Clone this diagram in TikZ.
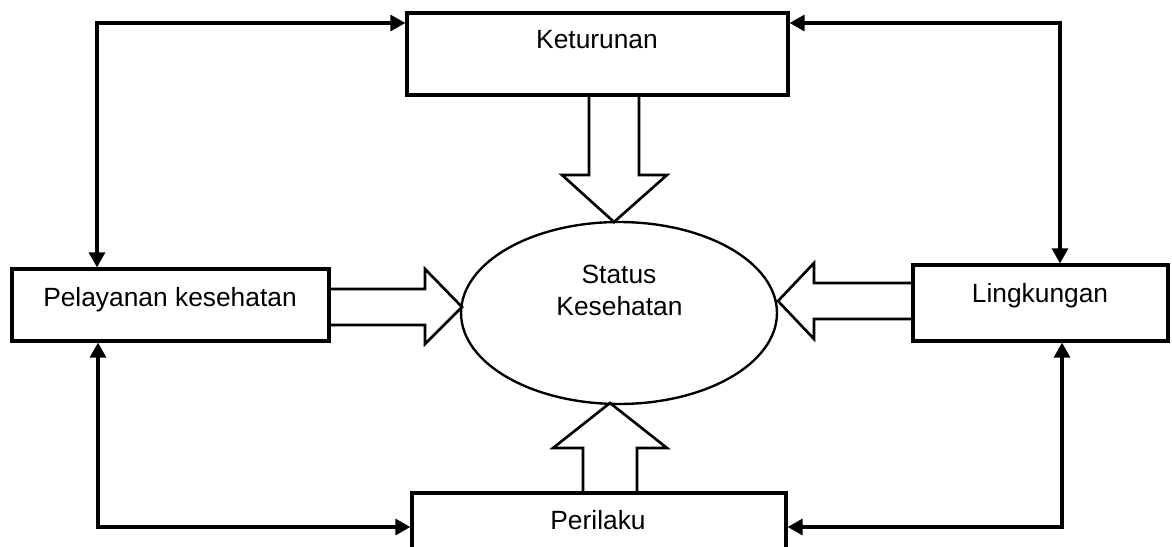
\documentclass[tikz,border=0pt]{standalone}
\usepackage{fontspec}
\setmainfont{Liberation Sans}
\usetikzlibrary{arrows.meta,shapes.geometric,calc}
\begin{document}
\begin{tikzpicture}[x=0.02cm,y=-0.02cm,
  boxnode/.style={draw,line width=1.85pt,rectangle,inner sep=0pt},
  lbl/.style={anchor=base,inner sep=0pt,font=\fontsize{15}{18}\selectfont},
  conn/.style={line width=1.85pt,{Triangle[length=8.5pt,width=9pt]}-{Triangle[length=8.5pt,width=9pt]}},
  blockarrow/.style={line width=1.5pt,line join=miter}]
\useasboundingbox (0,0) rectangle (1172,547);
\clip (0,0) rectangle (1172,547);
% boxes
\node[boxnode,minimum width=7.62cm,minimum height=1.64cm] (ket) at (597.5,54) {};
\node[boxnode,minimum width=6.34cm,minimum height=1.44cm] (pel) at (170.5,305) {};
\node[boxnode,minimum width=5.10cm,minimum height=1.52cm] (lin) at (1040.5,303) {};
\node[boxnode,minimum width=7.48cm,minimum height=1.34cm] (per) at (599,526.5) {};
\node[draw,ellipse,line width=1.35pt,minimum width=6.32cm,minimum height=3.64cm,inner sep=0pt] (sk) at (619,313) {};
% labels
\node[lbl] (tket) at (597,49) {Keturunan};
\node[lbl] (tpel) at (170,306) {Pelayanan kesehatan};
\node[lbl] (tlin) at (1040,302) {Lingkungan};
\node[lbl] (tper) at (598,529) {Perilaku};
\node[lbl] (tsk1) at (619,283) {Status};
\node[lbl] (tsk2) at (619.5,315) {Kesehatan};
% block arrows
\draw[blockarrow] (589,95) -- (589,175) -- (562,175) -- (614,222) -- (667,175) -- (639,175) -- (639,95);
\draw[blockarrow] (329,289) -- (425,289) -- (425,269) -- (462,307) -- (425,344) -- (425,325) -- (329,325);
\draw[blockarrow] (913,283) -- (814,283) -- (814,263) -- (778,301) -- (814,339) -- (814,319) -- (913,319);
\draw[blockarrow] (583,493) -- (583,448) -- (553,448) -- (610,403) -- (667,448) -- (637,448) -- (637,493);
% connector corners
\coordinate (tl) at (97,23);
\coordinate (tr) at (1060,23);
\coordinate (bl) at (98,527);
\coordinate (br) at (1062,527);
% connectors
\draw[conn] (pel.north -| tl) -- (tl) -- (tl -| ket.west);
\draw[conn] (ket.east |- tr) -- (tr) -- (lin.north -| tr);
\draw[conn] (pel.south -| bl) -- (bl) -- (bl -| per.west);
\draw[conn] (lin.south -| br) -- (br) -- (br -| per.east);
\end{tikzpicture}
\end{document}
